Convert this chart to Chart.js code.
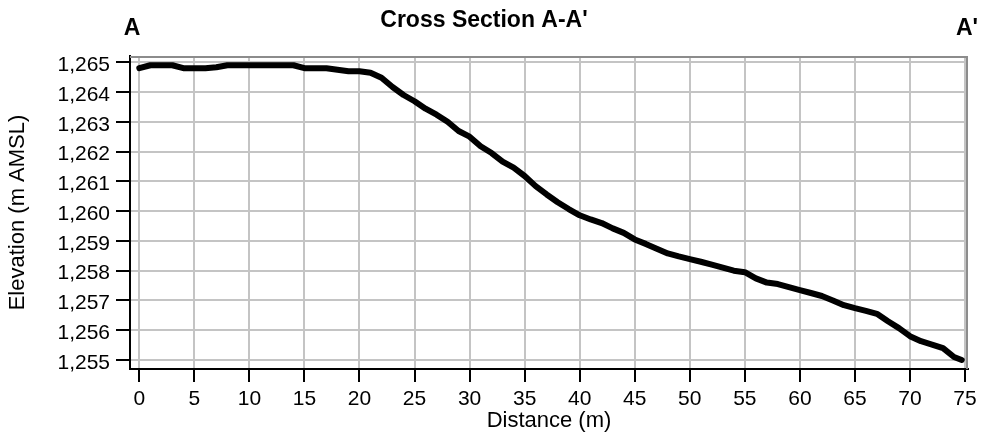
<!DOCTYPE html>
<html>
<head>
<meta charset="utf-8">
<script src="https://cdn.jsdelivr.net/npm/chart.js@4.4.0/dist/chart.umd.min.js"></script>
<style>
  html, body { margin: 0; padding: 0; background: #fff; }
  #wrap { width: 982px; height: 434px; }
</style>
</head>
<body>
<div id="wrap"><canvas id="c" width="982" height="434"></canvas></div>
<script>
// ---- data ----
const distance = [0,1,2,3,4,5,6,7,8,9,10,11,12,13,14,15,16,17,18,19,20,21,22,23,24,25,26,27,28,29,30,31,32,33,34,35,36,37,38,39,40,41,42,43,44,45,46,47,48,49,50,51,52,53,54,55,56,57,58,59,60,61,62,63,64,65,66,67,68,69,70,71,72,73,74,74.7];
const elevation = [1264.8,1264.9,1264.9,1264.9,1264.8,1264.8,1264.8,1264.83,1264.9,1264.9,1264.9,1264.9,1264.9,1264.9,1264.9,1264.8,1264.8,1264.8,1264.75,1264.7,1264.7,1264.65,1264.48,1264.17,1263.9,1263.69,1263.44,1263.24,1263.0,1262.69,1262.5,1262.18,1261.95,1261.66,1261.46,1261.18,1260.84,1260.56,1260.3,1260.07,1259.86,1259.72,1259.6,1259.42,1259.27,1259.05,1258.9,1258.74,1258.58,1258.48,1258.39,1258.3,1258.2,1258.1,1258.0,1257.95,1257.74,1257.6,1257.55,1257.45,1257.35,1257.25,1257.15,1257.0,1256.84,1256.74,1256.65,1256.55,1256.3,1256.07,1255.8,1255.63,1255.52,1255.4,1255.1,1255.0];
const xTicks = [0,5,10,15,20,25,30,35,40,45,50,55,60,65,70,75];
const yTicks = [1255,1256,1257,1258,1259,1260,1261,1262,1263,1264,1265];
const titleText = "Cross Section A-A'";
const startLabel = "A";
const endLabel = "A'";
const xTitle = "Distance (m)";
const yTitle = "Elevation (m AMSL)";

const FONT = "'Liberation Sans', Arial, Helvetica, sans-serif";
Chart.defaults.font.family = FONT;
Chart.defaults.color = '#000';

const framePlugin = {
  id: 'frame',
  beforeDatasetsDraw(chart) {
    const {ctx, chartArea: a} = chart;
    ctx.save();
    ctx.strokeStyle = '#8c8c8c';
    ctx.lineWidth = 2;
    ctx.beginPath();
    ctx.moveTo(a.left, a.top + 1);
    ctx.lineTo(a.right - 1, a.top + 1);
    ctx.lineTo(a.right - 1, a.bottom);
    ctx.stroke();
    ctx.restore();
  },
  afterDraw(chart) {
    const {ctx, chartArea: a} = chart;
    ctx.save();
    ctx.fillStyle = '#000';
    ctx.font = "bold 23px " + FONT;
    ctx.textAlign = 'center';
    ctx.textBaseline = 'alphabetic';
    ctx.fillText(startLabel, a.left + 2, 35);
    ctx.fillText(endLabel, a.right - 1, 35);
    ctx.restore();
  }
};

new Chart(document.getElementById('c'), {
  type: 'line',
  data: {
    datasets: [{
      data: distance.map((d, i) => ({x: d, y: elevation[i]})),
      borderColor: '#000',
      borderWidth: 6,
      pointRadius: 0,
      tension: 0,
      borderJoinStyle: 'round',
      borderCapStyle: 'round',
      fill: false
    }]
  },
  options: {
    responsive: false,
    devicePixelRatio: 1,
    animation: false,
    layout: { padding: { left: 0, right: 14, top: 0, bottom: 0 } },
    plugins: {
      legend: { display: false },
      tooltip: { enabled: false },
      title: {
        display: true,
        text: titleText,
        font: { size: 23, weight: 'bold' },
        color: '#000',
        padding: { top: 7, bottom: 21.4 }
      }
    },
    scales: {
      x: {
        type: 'linear',
        min: -0.845,
        max: 75.27,
        afterBuildTicks: (s) => { s.ticks = xTicks.map(v => ({value: v})); },
        afterFit: (s) => { s.height = 65; },
        grid: { color: '#c4c4c4', lineWidth: 2, tickColor: '#000', tickWidth: 2, tickLength: 13, drawOnChartArea: true },
        border: { color: '#000', width: 2 },
        ticks: { autoSkip: false, maxRotation: 0, padding: 5, font: { size: 21 }, color: '#000' },
        title: { display: true, text: xTitle, font: { size: 22 }, color: '#000', padding: { top: 0, bottom: 0 } }
      },
      y: {
        type: 'linear',
        min: 1254.698,
        max: 1265.21,
        afterBuildTicks: (s) => { s.ticks = yTicks.map(v => ({value: v})); },
        afterFit: (s) => { s.width = 130; },
        grid: { color: '#c4c4c4', lineWidth: 2, tickColor: '#000', tickWidth: 2, tickLength: 14 },
        border: { color: '#000', width: 2 },
        ticks: {
          autoSkip: false, padding: 6, labelOffset: 3, font: { size: 21 }, color: '#000',
          callback: (v) => Number(v).toLocaleString('en-US')
        },
        title: { display: true, text: yTitle, font: { size: 22 }, color: '#000', padding: { top: 5, bottom: 0 } }
      }
    }
  },
  plugins: [framePlugin]
});
</script>
</body>
</html>
